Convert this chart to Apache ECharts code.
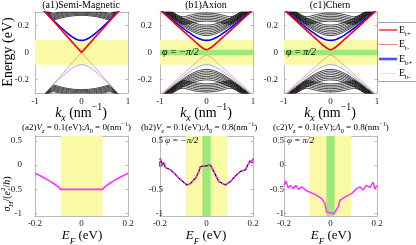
<!DOCTYPE html>
<html><head><meta charset="utf-8">
<script src="https://cdn.jsdelivr.net/npm/echarts@6/dist/echarts.min.js"></script>
<style>html,body{margin:0;padding:0;background:#fff}#c{width:416px;height:245px}</style>
</head><body><div id="c"></div>
<script>
// ---------- data ----------
const K = [-1,-0.9,-0.8,-0.7,-0.6,-0.5,-0.4,-0.3,-0.2,-0.1,0,0.1,0.2,0.3,0.4,0.5,0.6,0.7,0.8,0.9,1];
// (a1) semi-magnetic surface bands
const tPlusA  = [0.385,0.347,0.308,0.27,0.231,0.193,0.154,0.116,0.077,0.039,0,0.039,0.077,0.116,0.154,0.193,0.231,0.27,0.308,0.347,0.385];
const tMinusA = [-0.385,-0.347,-0.308,-0.27,-0.231,-0.193,-0.154,-0.116,-0.077,-0.039,0,-0.039,-0.077,-0.116,-0.154,-0.193,-0.231,-0.27,-0.308,-0.347,-0.385];
const bPlusA  = [0.376,0.341,0.306,0.271,0.237,0.204,0.172,0.142,0.116,0.097,0.09,0.097,0.116,0.142,0.172,0.204,0.237,0.271,0.306,0.341,0.376];
const bMinusA = [-0.376,-0.341,-0.306,-0.271,-0.237,-0.204,-0.172,-0.142,-0.116,-0.097,-0.09,-0.097,-0.116,-0.142,-0.172,-0.204,-0.237,-0.271,-0.306,-0.341,-0.376];
// (a1) bulk bands
const bulkUpA = [
 [0.38,0.345,0.308,0.273,0.242,0.25,0.259,0.266,0.271,0.274,0.275,0.274,0.271,0.266,0.259,0.25,0.242,0.273,0.308,0.345,0.38],
 [0.383,0.348,0.311,0.278,0.25,0.258,0.267,0.274,0.279,0.282,0.283,0.282,0.279,0.274,0.267,0.258,0.25,0.278,0.311,0.348,0.383],
 [0.386,0.351,0.314,0.283,0.258,0.266,0.275,0.282,0.287,0.29,0.291,0.29,0.287,0.282,0.275,0.266,0.258,0.283,0.314,0.351,0.386],
 [0.389,0.354,0.317,0.288,0.266,0.274,0.283,0.29,0.295,0.298,0.299,0.298,0.295,0.29,0.283,0.274,0.266,0.288,0.317,0.354,0.389],
 [0.392,0.357,0.32,0.293,0.274,0.282,0.291,0.298,0.303,0.306,0.307,0.306,0.303,0.298,0.291,0.282,0.274,0.293,0.32,0.357,0.392],
 [0.395,0.36,0.324,0.298,0.282,0.29,0.299,0.306,0.311,0.314,0.315,0.314,0.311,0.306,0.299,0.29,0.282,0.298,0.324,0.36,0.395],
 [0.398,0.363,0.328,0.303,0.29,0.298,0.307,0.314,0.319,0.322,0.323,0.322,0.319,0.314,0.307,0.298,0.29,0.303,0.328,0.363,0.398]
];
const bulkDnA = [
 [-0.38,-0.345,-0.308,-0.273,-0.242,-0.25,-0.259,-0.266,-0.271,-0.274,-0.275,-0.274,-0.271,-0.266,-0.259,-0.25,-0.242,-0.273,-0.308,-0.345,-0.38],
 [-0.383,-0.348,-0.311,-0.278,-0.25,-0.258,-0.267,-0.274,-0.279,-0.282,-0.283,-0.282,-0.279,-0.274,-0.267,-0.258,-0.25,-0.278,-0.311,-0.348,-0.383],
 [-0.386,-0.351,-0.314,-0.283,-0.258,-0.266,-0.275,-0.282,-0.287,-0.29,-0.291,-0.29,-0.287,-0.282,-0.275,-0.266,-0.258,-0.283,-0.314,-0.351,-0.386],
 [-0.389,-0.354,-0.317,-0.288,-0.266,-0.274,-0.283,-0.29,-0.295,-0.298,-0.299,-0.298,-0.295,-0.29,-0.283,-0.274,-0.266,-0.288,-0.317,-0.354,-0.389],
 [-0.392,-0.357,-0.32,-0.293,-0.274,-0.282,-0.291,-0.298,-0.303,-0.306,-0.307,-0.306,-0.303,-0.298,-0.291,-0.282,-0.274,-0.293,-0.32,-0.357,-0.392],
 [-0.395,-0.36,-0.324,-0.298,-0.282,-0.29,-0.299,-0.306,-0.311,-0.314,-0.315,-0.314,-0.311,-0.306,-0.299,-0.29,-0.282,-0.298,-0.324,-0.36,-0.395],
 [-0.398,-0.363,-0.328,-0.303,-0.29,-0.298,-0.307,-0.314,-0.319,-0.322,-0.323,-0.322,-0.319,-0.314,-0.307,-0.298,-0.29,-0.303,-0.328,-0.363,-0.398]
];
// (b1)/(c1) surface bands
const tPlusB  = [0.316,0.284,0.253,0.221,0.19,0.159,0.128,0.097,0.066,0.037,0.02,0.037,0.066,0.097,0.128,0.159,0.19,0.221,0.253,0.284,0.316];
const tMinusB = [-0.316,-0.284,-0.253,-0.221,-0.19,-0.159,-0.128,-0.097,-0.066,-0.037,-0.02,-0.037,-0.066,-0.097,-0.128,-0.159,-0.19,-0.221,-0.253,-0.284,-0.316];
const bPlusB  = [0.321,0.291,0.262,0.234,0.206,0.178,0.153,0.129,0.109,0.095,0.09,0.095,0.109,0.129,0.153,0.178,0.206,0.234,0.262,0.291,0.321];
const bMinusB = [-0.321,-0.291,-0.262,-0.234,-0.206,-0.178,-0.153,-0.129,-0.109,-0.095,-0.09,-0.095,-0.109,-0.129,-0.153,-0.178,-0.206,-0.234,-0.262,-0.291,-0.321];
// (b1)/(c1) bulk subbands
const bulkUpB = [
 [0.325,0.298,0.271,0.244,0.219,0.195,0.173,0.154,0.139,0.129,0.125,0.129,0.139,0.154,0.173,0.195,0.219,0.244,0.271,0.298,0.325],
 [0.33,0.303,0.277,0.251,0.227,0.204,0.183,0.165,0.151,0.141,0.138,0.141,0.151,0.165,0.183,0.204,0.227,0.251,0.277,0.303,0.33],
 [0.336,0.309,0.284,0.259,0.235,0.213,0.193,0.176,0.163,0.154,0.151,0.154,0.163,0.176,0.193,0.213,0.235,0.259,0.284,0.309,0.336],
 [0.342,0.316,0.291,0.267,0.244,0.222,0.203,0.187,0.175,0.167,0.164,0.167,0.175,0.187,0.203,0.222,0.244,0.267,0.291,0.316,0.342],
 [0.348,0.323,0.298,0.275,0.252,0.232,0.214,0.199,0.187,0.18,0.177,0.18,0.187,0.199,0.214,0.232,0.252,0.275,0.298,0.323,0.348],
 [0.355,0.33,0.306,0.283,0.262,0.242,0.225,0.21,0.199,0.192,0.19,0.192,0.199,0.21,0.225,0.242,0.262,0.283,0.306,0.33,0.355],
 [0.362,0.338,0.314,0.292,0.271,0.252,0.236,0.222,0.212,0.205,0.203,0.205,0.212,0.222,0.236,0.252,0.271,0.292,0.314,0.338,0.362],
 [0.377,0.347,0.317,0.292,0.272,0.264,0.272,0.281,0.287,0.291,0.292,0.291,0.287,0.281,0.272,0.264,0.272,0.292,0.317,0.347,0.377],
 [0.368,0.338,0.309,0.283,0.261,0.251,0.259,0.268,0.275,0.279,0.28,0.279,0.275,0.268,0.259,0.251,0.261,0.283,0.309,0.338,0.368],
 [0.36,0.33,0.301,0.275,0.251,0.24,0.247,0.256,0.263,0.267,0.268,0.267,0.263,0.256,0.247,0.24,0.251,0.275,0.301,0.33,0.36],
 [0.352,0.322,0.294,0.267,0.242,0.229,0.235,0.244,0.251,0.255,0.256,0.255,0.251,0.244,0.235,0.229,0.242,0.267,0.294,0.322,0.352],
 [0.345,0.315,0.287,0.259,0.234,0.219,0.224,0.232,0.239,0.243,0.244,0.243,0.239,0.232,0.224,0.219,0.234,0.259,0.287,0.315,0.345],
 [0.338,0.308,0.28,0.252,0.227,0.21,0.214,0.221,0.227,0.231,0.232,0.231,0.227,0.221,0.214,0.21,0.227,0.252,0.28,0.308,0.338]
];
const bulkDnB = [
 [-0.325,-0.298,-0.271,-0.244,-0.219,-0.195,-0.173,-0.154,-0.139,-0.129,-0.125,-0.129,-0.139,-0.154,-0.173,-0.195,-0.219,-0.244,-0.271,-0.298,-0.325],
 [-0.33,-0.303,-0.277,-0.251,-0.227,-0.204,-0.183,-0.165,-0.151,-0.141,-0.138,-0.141,-0.151,-0.165,-0.183,-0.204,-0.227,-0.251,-0.277,-0.303,-0.33],
 [-0.336,-0.309,-0.284,-0.259,-0.235,-0.213,-0.193,-0.176,-0.163,-0.154,-0.151,-0.154,-0.163,-0.176,-0.193,-0.213,-0.235,-0.259,-0.284,-0.309,-0.336],
 [-0.342,-0.316,-0.291,-0.267,-0.244,-0.222,-0.203,-0.187,-0.175,-0.167,-0.164,-0.167,-0.175,-0.187,-0.203,-0.222,-0.244,-0.267,-0.291,-0.316,-0.342],
 [-0.348,-0.323,-0.298,-0.275,-0.252,-0.232,-0.214,-0.199,-0.187,-0.18,-0.177,-0.18,-0.187,-0.199,-0.214,-0.232,-0.252,-0.275,-0.298,-0.323,-0.348],
 [-0.355,-0.33,-0.306,-0.283,-0.262,-0.242,-0.225,-0.21,-0.199,-0.192,-0.19,-0.192,-0.199,-0.21,-0.225,-0.242,-0.262,-0.283,-0.306,-0.33,-0.355],
 [-0.362,-0.338,-0.314,-0.292,-0.271,-0.252,-0.236,-0.222,-0.212,-0.205,-0.203,-0.205,-0.212,-0.222,-0.236,-0.252,-0.271,-0.292,-0.314,-0.338,-0.362],
 [-0.377,-0.347,-0.317,-0.292,-0.272,-0.264,-0.272,-0.281,-0.287,-0.291,-0.292,-0.291,-0.287,-0.281,-0.272,-0.264,-0.272,-0.292,-0.317,-0.347,-0.377],
 [-0.368,-0.338,-0.309,-0.283,-0.261,-0.251,-0.259,-0.268,-0.275,-0.279,-0.28,-0.279,-0.275,-0.268,-0.259,-0.251,-0.261,-0.283,-0.309,-0.338,-0.368],
 [-0.36,-0.33,-0.301,-0.275,-0.251,-0.24,-0.247,-0.256,-0.263,-0.267,-0.268,-0.267,-0.263,-0.256,-0.247,-0.24,-0.251,-0.275,-0.301,-0.33,-0.36],
 [-0.352,-0.322,-0.294,-0.267,-0.242,-0.229,-0.235,-0.244,-0.251,-0.255,-0.256,-0.255,-0.251,-0.244,-0.235,-0.229,-0.242,-0.267,-0.294,-0.322,-0.352],
 [-0.345,-0.315,-0.287,-0.259,-0.234,-0.219,-0.224,-0.232,-0.239,-0.243,-0.244,-0.243,-0.239,-0.232,-0.224,-0.219,-0.234,-0.259,-0.287,-0.315,-0.345],
 [-0.338,-0.308,-0.28,-0.252,-0.227,-0.21,-0.214,-0.221,-0.227,-0.231,-0.232,-0.231,-0.227,-0.221,-0.214,-0.21,-0.227,-0.252,-0.28,-0.308,-0.338]
];
// Hall conductance panels
const efA  = [-0.2,-0.17,-0.14,-0.12,-0.1,-0.09,0,0.09,0.1,0.12,0.14,0.17,0.2];
const sigA = [-0.17,-0.24,-0.32,-0.38,-0.45,-0.5,-0.5,-0.5,-0.45,-0.38,-0.32,-0.24,-0.17];
const efB  = [-0.2,-0.19,-0.183,-0.177,-0.169,-0.154,-0.14,-0.119,-0.097,-0.083,-0.069,-0.047,-0.033,-0.026,-0.019,0.017,0.024,0.031,0.053,0.081,0.103,0.125,0.146,0.167,0.174,0.181,0.189,0.196,0.2];
const sigB = [0.14,-0.01,0.05,-0.05,-0.02,-0.1,-0.16,-0.27,-0.36,-0.41,-0.38,-0.27,-0.13,-0.03,0,0,-0.03,-0.13,-0.34,-0.41,-0.34,-0.22,-0.13,-0.1,-0.03,-0.07,0.1,0.04,0.14];
const efC  = [-0.2,-0.192,-0.182,-0.172,-0.16,-0.149,-0.137,-0.124,-0.103,-0.06,-0.039,-0.024,-0.017,-0.012,0.015,0.022,0.033,0.04,0.061,0.09,0.111,0.126,0.14,0.154,0.169,0.183,0.19,0.2];
const sigC = [-0.42,-0.33,-0.47,-0.42,-0.49,-0.42,-0.5,-0.45,-0.53,-0.62,-0.69,-0.79,-0.97,-1,-1,-0.97,-0.86,-0.73,-0.66,-0.59,-0.49,-0.45,-0.51,-0.42,-0.46,-0.35,-0.49,-0.42];
// tick labels
const kTicks = [-1,0,1];
const eTicks = [-0.2,0,0.2];
const efTicks = [-0.2,0,0.2];
const sTicks = [-1,-0.5,0,0.5];
// legend entries
const legendItems = [
  {label:'t+', color:'#ff0000', width:1.2},
  {label:'t-', color:'#f08080', width:1},
  {label:'b+', color:'#5050ff', width:2.6},
  {label:'b-', color:'#dde6f0', width:1}
];
// bands
const yellowBand = [-0.09,0.09];
const greenBand = [-0.02,0.02];
const greenBandEF = [-0.018,0.018];

// ---------- layout ----------
const FONT = "'Liberation Serif','DejaVu Serif',serif";
const YEL = '#fafaa6', GRN = '#9ee87a', FRAME = '#a8a8a8';
const panels = [
 {l:35,t:12,w:93,h:81,x:[-1,1],xi:1,y:[-0.3,0.3],yi:0.1,yt:eTicks,lm:6},
 {l:160,t:12,w:93,h:81,x:[-1,1],xi:1,y:[-0.3,0.3],yi:0.1,yt:eTicks,lm:8},
 {l:284,t:12,w:93,h:81,x:[-1,1],xi:1,y:[-0.3,0.3],yi:0.1,yt:eTicks,lm:6},
 {l:35,t:136,w:93,h:80,x:[-0.2,0.2],xi:0.2,y:[-1.05,0.6],yi:0.05,yt:sTicks,lm:13},
 {l:160,t:136,w:93,h:80,x:[-0.2,0.2],xi:0.2,y:[-1.05,0.6],yi:0.05,yt:sTicks,lm:-3},
 {l:284,t:136,w:93,h:80,x:[-0.2,0.2],xi:0.2,y:[-1.05,0.6],yi:0.05,yt:sTicks,lm:0}
];
const fmt = v => { const r = Math.round(v*100)/100; return r === 0 ? '0' : String(r); };
const grid=[], xAxis=[], yAxis=[];
panels.forEach((p,i)=>{
  grid.push({left:p.l, top:p.t, width:p.w, height:p.h, containLabel:false});
  const line = {show:true, onZero:false, lineStyle:{color:FRAME, width:0.8}};
  const tick = {show:true, inside:true, length:2.5, lineStyle:{color:FRAME, width:0.8}};
  const xt = i<3 ? kTicks : efTicks;
  const lab = {fontFamily:FONT, fontSize:9, color:'#222'};
  xAxis.push({gridIndex:i, type:'value', min:p.x[0], max:p.x[1], interval:p.xi, position:'bottom',
    axisLine:line, axisTick:Object.assign({customValues:xt},tick), splitLine:{show:false},
    axisLabel:Object.assign({margin: i<3?4:3, customValues:xt, formatter:fmt}, lab)});
  xAxis.push({gridIndex:i, type:'value', min:p.x[0], max:p.x[1], interval:p.xi, position:'top',
    axisLine:line, axisTick:Object.assign({customValues:xt},tick), splitLine:{show:false}, axisLabel:{show:false}});
  yAxis.push({gridIndex:i, type:'value', min:p.y[0], max:p.y[1], interval:p.yi, position:'left',
    axisLine:line, axisTick:Object.assign({customValues:p.yt},tick), splitLine:{show:false},
    axisLabel:Object.assign({margin:p.lm, customValues:p.yt,
      formatter:v => p.yt.some(t=>Math.abs(t-v)<1e-6) ? fmt(v) : ''}, lab)});
  yAxis.push({gridIndex:i, type:'value', min:p.y[0], max:p.y[1], interval:p.yi, position:'right',
    axisLine:line, axisTick:Object.assign({customValues:p.yt},tick), splitLine:{show:false}, axisLabel:{show:false}});
});

const series = [];
function add(gi, xs, ys, name, style, smooth, z){
  series.push({type:'line', name:name, xAxisIndex:2*gi, yAxisIndex:2*gi,
    data: xs.map((x,j)=>[x, ys[j]]), symbol:'none', smooth:smooth, silent:true,
    lineStyle:style, itemStyle:{color:style.color}, z:z||3, clip:true});
}
function bands(gi, axisKey, yel, grn){
  const d = [[{[axisKey]:yel[0], itemStyle:{color:YEL}},{[axisKey]:yel[1]}]];
  if (grn) d.push([{[axisKey]:grn[0], itemStyle:{color:GRN}},{[axisKey]:grn[1]}]);
  series.push({type:'line', xAxisIndex:2*gi, yAxisIndex:2*gi, data:[], symbol:'none', silent:true, z:1,
    markArea:{silent:true, data:d}});
}
const BLK = {color:'#000', width:0.75};
const ST = {
  tp:{color:'#ff0000', width:1.6},
  tm:{color:'#f29a8a', width:0.9},
  bp:{color:'#0000ff', width:1.6},
  bm:{color:'#9a9af0', width:0.9}
};
// (a1)
bands(0,'yAxis',yellowBand,null);
bulkUpA.forEach(a=>add(0,K,a,null,BLK,0.3,2));
bulkDnA.forEach(a=>add(0,K,a,null,BLK,0.3,2));
add(0,K,tMinusA,'Et-',ST.tm,false);
add(0,K,bMinusA,'Eb-',ST.bm,0.3);
add(0,K,bPlusA,'Eb+',ST.bp,0.3);
add(0,K,tPlusA,'Et+',ST.tp,false);
// (b1),(c1)
[1,2].forEach(gi=>{
  bands(gi,'yAxis',yellowBand,greenBand);
  bulkUpB.forEach(a=>add(gi,K,a,null,BLK,0.3,2));
  bulkDnB.forEach(a=>add(gi,K,a,null,BLK,0.3,2));
  add(gi,K,tMinusB,'Et-',ST.tm,0.3);
  add(gi,K,bMinusB,'Eb-',ST.bm,0.3);
  add(gi,K,bPlusB,'Eb+',ST.bp,0.3);
  add(gi,K,tPlusB,'Et+',ST.tp,0.3);
});
// (a2)
bands(3,'xAxis',yellowBand,null);
add(3,efA,sigA,null,{color:'#ff33ff',width:1.6},false);
// (b2)
bands(4,'xAxis',yellowBand,greenBandEF);
add(4,efB,sigB,null,{color:'#000',width:1.2},false);
add(4,efB,sigB,null,{color:'#ff33ff',width:1.5,type:[3,2]},false,4);
// (c2)
bands(5,'xAxis',yellowBand,greenBandEF);
add(5,efC,sigC,null,{color:'#ff33ff',width:1.5},false);

// ---------- texts ----------
function rich(size){
  return {
    n:{fontFamily:FONT,fontSize:size,lineHeight:size*1.5,fill:'#000'},
    i:{fontFamily:FONT,fontSize:size,lineHeight:size*1.5,fontStyle:'italic',fill:'#000'},
    s:{fontFamily:FONT,fontSize:size*0.7,lineHeight:size*0.75,verticalAlign:'bottom',fill:'#000'},
    si:{fontFamily:FONT,fontSize:size*0.7,lineHeight:size*0.75,verticalAlign:'bottom',fontStyle:'italic',fill:'#000'},
    p:{fontFamily:FONT,fontSize:size*0.7,lineHeight:size*0.75,verticalAlign:'top',fill:'#000'}
  };
}
function T(x,y,text,size,rot,align){
  return {type:'text', x:x, y:y, rotation:rot||0, silent:true, z:100,
    style:{text:text, rich:rich(size), fontFamily:FONT, fontSize:size, fill:'#000',
      align:align||'center', verticalAlign:'middle'}};
}
const graphic = [
  T(81,5,'{n|(a1)Semi-Magnetic}',10),
  T(206,5,'{n|(b1)Axion}',10),
  T(330,5,'{n|(c1)Chern}',10),
  T(8,52,'{n|Energy (eV)}',14,Math.PI/2),
  T(81,113,'{i|k}{si|x}{n| (nm}{p|−1}{n|)}',14),
  T(206,113,'{i|k}{si|x}{n| (nm}{p|−1}{n|)}',14),
  T(330,113,'{i|k}{si|x}{n| (nm}{p|−1}{n|)}',14),
  T(162,52,'{i|φ = −π/2}',10,0,'left'),
  T(286,52,'{i|φ = π/2}',10,0,'left'),
  T(22,128,'{n|(a2)}{i|V}{si|z}{n| = 0.1(eV);}{i|Λ}{s|0}{n| = 0(nm}{p|−1}{n|)}',9,0,'left'),
  T(141,128,'{n|(b2)}{i|V}{si|z}{n| = 0.1(eV);}{i|Λ}{s|0}{n| = 0.8(nm}{p|−1}{n|)}',9,0,'left'),
  T(273,128,'{n|(c2)}{i|V}{si|z}{n| = 0.1(eV);}{i|Λ}{s|0}{n| = 0.8(nm}{p|−1}{n|)}',9,0,'left'),
  T(165,141,'{i|φ = −π/2}',9,0,'left'),
  T(287,141,'{i|φ = π/2}',9,0,'left'),
  T(7,194,'{i|σ}{si|H}{n|/(}{i|e}{p|2}{n|/}{i|h}{n|)}',10,Math.PI/2),
  T(82,236,'{i|E}{si|F}{n| (eV)}',13),
  T(206,236,'{i|E}{si|F}{n| (eV)}',13),
  T(331,236,'{i|E}{si|F}{n| (eV)}',13)
];
// legend box (drawn with graphic elements)
graphic.push({type:'rect', shape:{x:377.5, y:22.5, width:50, height:59}, silent:true, z:90,
  style:{fill:'#fff', stroke:'#8c8c8c', lineWidth:0.8}});
legendItems.forEach((it,j)=>{
  const y = 30 + j*14.5;
  graphic.push({type:'line', shape:{x1:379, y1:y, x2:397, y2:y}, silent:true, z:95,
    style:{stroke:it.color, lineWidth:it.width}});
  graphic.push(T(399,y,'{n|E}{s|'+it.label+'}',10,0,'left'));
});

const chart = echarts.init(document.getElementById('c'), null, {renderer:'canvas'});
chart.setOption({
  animation:false,
  backgroundColor:'#fff',
  grid, xAxis, yAxis, series, graphic
});
</script></body></html>
